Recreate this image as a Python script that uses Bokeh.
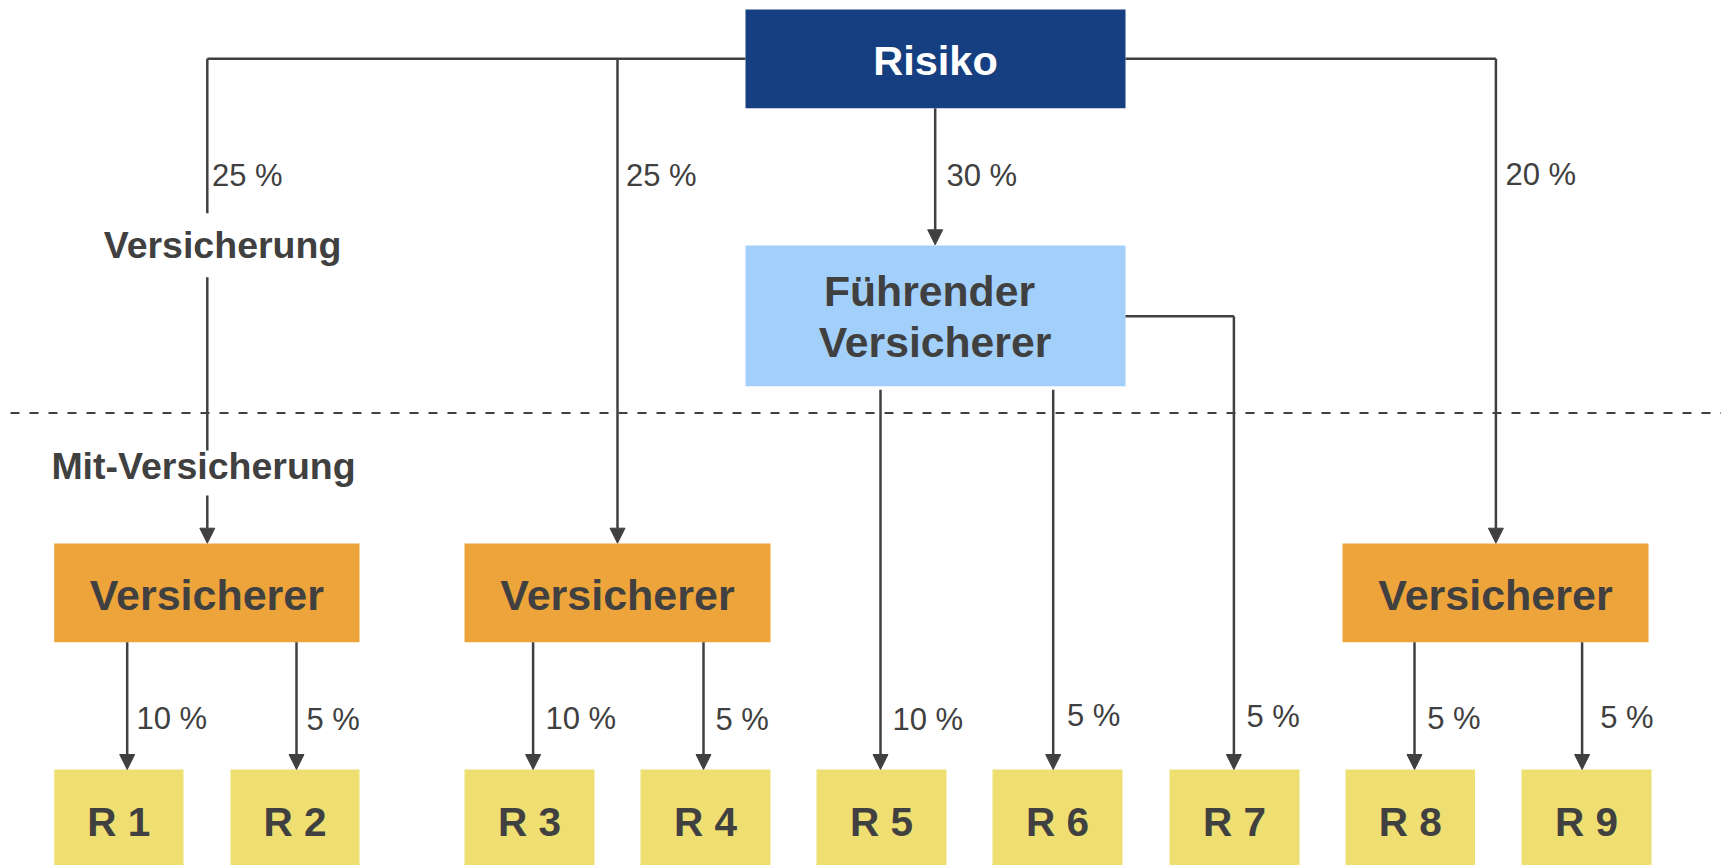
from bokeh.plotting import figure
from bokeh.models import Range1d, Arrow, NormalHead
from bokeh.core.properties import value
from bokeh.embed import file_html
from bokeh.resources import INLINE

# ---------------- data ----------------
top_node = "Risiko"
lead_node = "Führender\nVersicherer"
insurer_labels = ["Versicherer", "Versicherer", "Versicherer"]
reinsurer_labels = ["R 1", "R 2", "R 3", "R 4", "R 5", "R 6", "R 7", "R 8", "R 9"]
zone_labels = ["Versicherung", "Mit-Versicherung"]
top_shares = ["25 %", "25 %", "30 %", "20 %"]
bottom_shares = ["10 %", "5 %", "10 %", "5 %", "10 %", "5 %", "5 %", "5 %", "5 %"]

# ---------------- layout (reference pixel coordinates) ----------------
FONT = "Liberation Sans"
TXT = "#404040"
LINE = "#404040"
LW = 2.5

W, H = 1721, 865
p = figure(width=W, height=H, output_backend="svg", toolbar_location=None,
           x_range=Range1d(0, W), y_range=Range1d(H, 0),
           min_border=0, background_fill_color="white", border_fill_color="white")
p.axis.visible = False
p.grid.visible = False
p.outline_line_color = None


def bl(y, size):
    # baseline correction for rendered text
    return y - 0.33 * size


# dashed separator
p.line([10, 1725], [412.5, 412.5], line_color=LINE, line_width=2, line_dash="9 10")

# boxes
risk_box = (745, 1125, 9, 107.7)
lead_box = (745, 1125, 245, 385.7)
ins_boxes = [(53.7, 359), (464, 770), (1342, 1648)]
ins_y = (543, 641.7)
r_boxes = [(53.7, 183), (230, 359), (464, 594), (640, 770), (816, 946),
           (992, 1122), (1169, 1299), (1345, 1474.5), (1521, 1651)]
r_y = (769, 880)

p.quad(left=[risk_box[0]], right=[risk_box[1]], top=[risk_box[2]], bottom=[risk_box[3]],
       fill_color="#153F80", line_color=None)
p.quad(left=[lead_box[0]], right=[lead_box[1]], top=[lead_box[2]], bottom=[lead_box[3]],
       fill_color="#A3D0FB", line_color=None)
p.quad(left=[b[0] for b in ins_boxes], right=[b[1] for b in ins_boxes],
       top=[ins_y[0]] * 3, bottom=[ins_y[1]] * 3, fill_color="#EDA43B", line_color=None)
p.quad(left=[b[0] for b in r_boxes], right=[b[1] for b in r_boxes],
       top=[r_y[0]] * 9, bottom=[r_y[1]] * 9, fill_color="#EFDF72", line_color=None)

# plain connector segments
segments = [
    ([745, 206.8], [58.3, 58.3]),
    ([206.8, 206.8], [58.3, 212.7]),
    ([206.8, 206.8], [276.7, 450]),
    ([1125, 1495.4], [58.3, 58.3]),
    ([1125, 1233.4], [315.7, 315.7]),
]
p.multi_line([s[0] for s in segments], [s[1] for s in segments], line_color=LINE, line_width=LW)

# arrows (x, y_start, y_end)
arrows = [
    (206.8, 495, 542.7),
    (617, 58.3, 542.7),
    (934.7, 107.7, 244.3),
    (1495.4, 58.3, 542.7),
    (1233.4, 315.7, 769),
    (880, 389.3, 769),
    (1052.7, 389.3, 769),
    (126.7, 641.7, 769),
    (296, 641.7, 769),
    (532.6, 641.7, 769),
    (703, 641.7, 769),
    (1414, 641.7, 769),
    (1581.6, 641.7, 769),
]
for x, y0, y1 in arrows:
    p.add_layout(Arrow(x_start=x, y_start=y0, x_end=x, y_end=y1,
                       line_color=LINE, line_width=LW,
                       end=NormalHead(size=15, fill_color=LINE, line_color=LINE, line_width=1)))

# node texts
p.text(x=[935], y=[bl(73.3, 41.5)], text=[top_node], text_font=value(FONT), text_font_style="bold",
       text_font_size="41.5px", text_color="white", text_align="center", text_baseline="alphabetic")
lead_lines = lead_node.split("\n")
p.text(x=[929, 934.5], y=[bl(305, 42.7), bl(356, 42.7)], text=lead_lines, text_font=value(FONT),
       text_font_style="bold", text_font_size="42.7px", text_color=TXT, text_align="center",
       text_baseline="alphabetic")
p.text(x=[(b[0] + b[1]) / 2 for b in ins_boxes], y=[bl(609, 43)] * 3, text=insurer_labels,
       text_font=value(FONT), text_font_style="bold", text_font_size="43px", text_color=TXT,
       text_align="center", text_baseline="alphabetic")
p.text(x=[(b[0] + b[1]) / 2 for b in r_boxes], y=[bl(835, 40.5)] * 9, text=reinsurer_labels,
       text_font=value(FONT), text_font_style="bold", text_font_size="40.5px", text_color=TXT,
       text_align="center", text_baseline="alphabetic")
p.text(x=[222, 203], y=[bl(257, 37.5), bl(478.3, 37.5)], text=zone_labels, text_font=value(FONT),
       text_font_style="bold", text_font_size="37.5px", text_color=TXT, text_align="center",
       text_baseline="alphabetic")

# share labels
p.text(x=[211.5, 625.4, 946, 1505], y=[bl(v, 31) for v in [185.5, 185.5, 185, 184]], text=top_shares,
       text_font=value(FONT), text_font_size="31px", text_color=TXT,
       text_align="left", text_baseline="alphabetic")
p.text(x=[136, 306, 545, 715, 892, 1066.5, 1246, 1426.7, 1599.7],
       y=[bl(v, 31) for v in [728.3, 729, 728, 729, 729, 725, 726.7, 728.3, 727.7]], text=bottom_shares,
       text_font=value(FONT), text_font_size="31px", text_color=TXT,
       text_align="left", text_baseline="alphabetic")

open("out.html", "w").write(file_html(p, INLINE))
